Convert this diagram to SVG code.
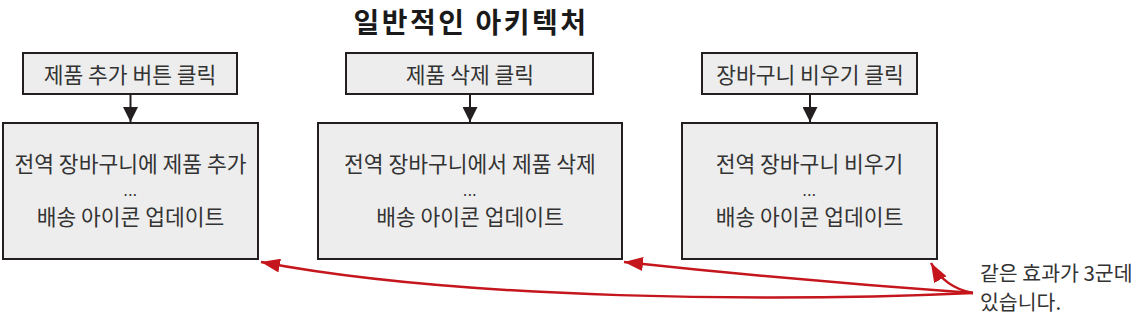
<svg xmlns="http://www.w3.org/2000/svg" width="1140" height="320" viewBox="0 0 1140 320">
<style>
  .box { fill: #ededed; stroke: #231f20; stroke-width: 2; }
  .t { font-family: "Noto Sans CJK KR", "Noto Sans", sans-serif; fill: #333333; text-anchor: middle; font-size: 21.5px; }
  .dots { font-family: "Noto Sans CJK KR", "Noto Sans", sans-serif; fill: #333333; text-anchor: middle; font-size: 15px; letter-spacing: 0.5px; }
  .title { font-family: "Noto Sans CJK KR", "Noto Sans", sans-serif; fill: #1a1a1a; text-anchor: middle; font-size: 28px; font-weight: bold; letter-spacing: 2.5px; }
  .note { font-family: "Noto Sans CJK KR", "Noto Sans", sans-serif; fill: #333333; font-size: 20.5px; }
  .blk { fill: none; stroke: #231f20; stroke-width: 2; }
  .red { fill: none; stroke: #c4161c; stroke-width: 2.5; }
</style>
<defs>
  <marker id="ba" viewBox="0 0 15 15" refX="15" refY="7.5" markerWidth="15" markerHeight="15" orient="auto" markerUnits="userSpaceOnUse">
    <path d="M0,0 L15,7.5 L0,15 z" fill="#231f20"/>
  </marker>
  <marker id="ra" viewBox="0 0 19 14" refX="19" refY="7" markerWidth="19" markerHeight="14" orient="auto" markerUnits="userSpaceOnUse">
    <path d="M0,0 L19,7 L0,14 z" fill="#c4161c"/>
  </marker>
</defs>

<text class="title" x="471" y="33">일반적인 아키텍처</text>

<g id="btn-add">
  <rect class="box" x="23" y="53" width="214" height="41"/>
  <text class="t" x="130" y="82.5">제품 추가 버튼 클릭</text>
</g>
<g id="btn-del">
  <rect class="box" x="346" y="53" width="247" height="41"/>
  <text class="t" x="470" y="82.5">제품 삭제 클릭</text>
</g>
<g id="btn-clear">
  <rect class="box" x="702" y="53" width="215" height="41"/>
  <text class="t" x="810" y="82.5">장바구니 비우기 클릭</text>
</g>

<g id="proc-add">
  <rect class="box" x="3" y="123" width="255" height="136"/>
  <text class="t" x="130.5" y="172">전역 장바구니에 제품 추가</text>
  <text class="dots" x="130.5" y="195.6">...</text>
  <text class="t" x="130.5" y="225">배송 아이콘 업데이트</text>
</g>
<g id="proc-del">
  <rect class="box" x="318" y="123" width="304" height="136"/>
  <text class="t" x="470" y="172">전역 장바구니에서 제품 삭제</text>
  <text class="dots" x="470" y="195.6">...</text>
  <text class="t" x="470" y="225">배송 아이콘 업데이트</text>
</g>
<g id="proc-clear">
  <rect class="box" x="682" y="123" width="255" height="136"/>
  <text class="t" x="809.5" y="172">전역 장바구니 비우기</text>
  <text class="dots" x="809.5" y="195.6">...</text>
  <text class="t" x="809.5" y="225">배송 아이콘 업데이트</text>
</g>

<g id="note">
  <text class="note" x="980" y="281">같은 효과가 3군데</text>
  <text class="note" x="980" y="310">있습니다.</text>
</g>

<g id="connectors">
  <line class="blk" x1="130.5" y1="94" x2="130.5" y2="122" marker-end="url(#ba)"/>
  <line class="blk" x1="470" y1="94" x2="470" y2="122" marker-end="url(#ba)"/>
  <line class="blk" x1="810" y1="94" x2="810" y2="122" marker-end="url(#ba)"/>
  <path class="red" d="M973,293 C780,302 460,300 261,262" marker-end="url(#ra)"/>
  <path class="red" d="M973,293 Q800,281 624,262" marker-end="url(#ra)"/>
  <path class="red" d="M973,293 Q945,288 931,263" marker-end="url(#ra)"/>
</g>
</svg>
